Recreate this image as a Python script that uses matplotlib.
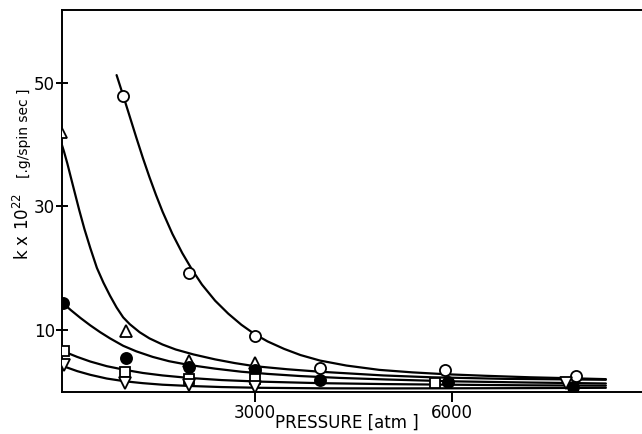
import matplotlib
matplotlib.use("Agg")
from matplotlib import pyplot as plt

# marker readings (pressure in atm, k x 10^22)
open_x = [1000, 2000, 3000, 4000, 5900, 7900]
open_y = [47.8, 19.2, 9.0, 3.8, 3.4, 2.5]

tri_x = [50, 1050, 2000, 3000]
tri_y = [42.0, 9.8, 4.9, 4.6]

fill_x = [80, 1050, 2000, 3000, 4000, 5950, 7850]
fill_y = [14.3, 5.4, 4.0, 3.5, 1.9, 1.6, 0.8]

sq_x = [100, 1030, 2000, 3000, 5750]
sq_y = [6.5, 3.2, 2.1, 2.0, 1.3]

inv_x = [100, 1030, 2000, 3000, 7750]
inv_y = [4.3, 1.3, 1.0, 0.8, 1.3]

# hand drawn curves
open_cx = [900, 1000, 1100, 1200, 1300, 1400, 1500, 1600, 1750, 1900, 2050, 2200,
           2400, 2600, 2800, 3000, 3200, 3450, 3700, 4000, 4400, 4900, 5400, 5900,
           6500, 7200, 7800, 8350]
open_cy = [51.2, 47.9, 44.5, 41.1, 37.8, 34.7, 31.8, 29.1, 25.5, 22.4, 19.7, 17.3,
           14.7, 12.6, 10.8, 9.3, 8.1, 6.9, 5.9, 5.0, 4.2, 3.5, 3.1, 2.8,
           2.55, 2.3, 2.15, 2.0]

tri_cx = [50, 100, 150, 200, 260, 330, 410, 500, 600, 700, 800, 900, 1000, 1100,
          1250, 1400, 1600, 1800, 2070, 2400, 2700, 3000, 3500, 4000, 4960, 5700,
          6800, 8350]
tri_cy = [40.5, 38.8, 36.9, 34.8, 32.3, 29.4, 26.3, 23.2, 20.0, 17.6, 15.5, 13.6,
          12.0, 10.9, 9.6, 8.6, 7.6, 6.8, 6.0, 5.2, 4.6, 4.1, 3.6, 3.2, 2.6, 2.3,
          2.05, 1.9]

fill_cx = [84, 200, 350, 500, 650, 800, 1000, 1200, 1450, 1700, 2000, 2400, 2800,
           3200, 3700, 4300, 5000, 6000, 7200, 8350]
fill_cy = [14.3, 13.2, 11.9, 10.7, 9.6, 8.6, 7.4, 6.5, 5.6, 4.9, 4.3, 3.7, 3.2,
           2.85, 2.5, 2.2, 1.95, 1.65, 1.45, 1.3]

sq_cx = [114, 300, 500, 750, 1028, 1300, 1600, 2000, 2500, 3084, 4000, 5000, 6000,
         7200, 8350]
sq_cy = [6.4, 5.6, 4.85, 4.1, 3.5, 3.0, 2.6, 2.2, 1.85, 1.6, 1.35, 1.2, 1.1, 1.0,
         0.95]

inv_cx = [114, 300, 500, 750, 1028, 1300, 1600, 2000, 2500, 3084, 4000, 5000, 6000,
          7200, 8350]
inv_cy = [4.0, 3.3, 2.7, 2.1, 1.65, 1.35, 1.1, 0.9, 0.72, 0.6, 0.52, 0.5, 0.52,
          0.55, 0.6]

x_ticks = [3000, 6000]
y_ticks = [10, 30, 50]

fig = plt.figure(figsize=(6.42, 4.34), dpi=100)
ax = fig.add_axes([0.0966, 0.0979, 0.9034, 0.880])

lw = 1.6
for cx, cy in [(open_cx, open_cy), (tri_cx, tri_cy), (fill_cx, fill_cy),
               (sq_cx, sq_cy), (inv_cx, inv_cy)]:
    ax.plot(cx, cy, color="black", lw=lw, solid_capstyle="round",
            solid_joinstyle="round", zorder=2)

mk = dict(linestyle="none", markeredgecolor="black", markeredgewidth=1.3, zorder=3)
ax.plot(open_x, open_y, marker="o", markersize=8, markerfacecolor="white", **mk)
ax.plot(tri_x, tri_y, marker="^", markersize=9, markerfacecolor="white", **mk)
ax.plot(fill_x, fill_y, marker="o", markersize=8, markerfacecolor="black", **mk)
ax.plot(sq_x, sq_y, marker="s", markersize=7.5, markerfacecolor="white", **mk)
ax.plot(inv_x, inv_y, marker="v", markersize=8.5, markerfacecolor="white", **mk)

ax.set_xlim(69, 8900)
ax.set_ylim(0, 61.8)

ax.spines["right"].set_visible(False)
for s in ["left", "bottom", "top"]:
    ax.spines[s].set_linewidth(1.4)

ax.set_xticks(x_ticks)
ax.set_yticks(y_ticks)
ax.tick_params(axis="x", direction="out", length=7, width=1.4, pad=2, labelsize=12)
ax.tick_params(axis="y", direction="inout", length=8, width=1.4, pad=1, labelsize=12)

ax.set_xlabel("PRESSURE [atm ]", fontsize=12)
ax.xaxis.set_label_coords(0.491, -0.058)

# y label: big "k x 10^22" part and smaller unit part above it
fig.text(23 / 642, 1 - 226 / 434, r"k x 10$^{22}$",
         rotation=90, ha="center", va="center", fontsize=12)
fig.text(24 / 642, 1 - 133 / 434, "[.g/spin sec ]",
         rotation=90, ha="center", va="center", fontsize=10)

fig.savefig("out.png", dpi=100)
